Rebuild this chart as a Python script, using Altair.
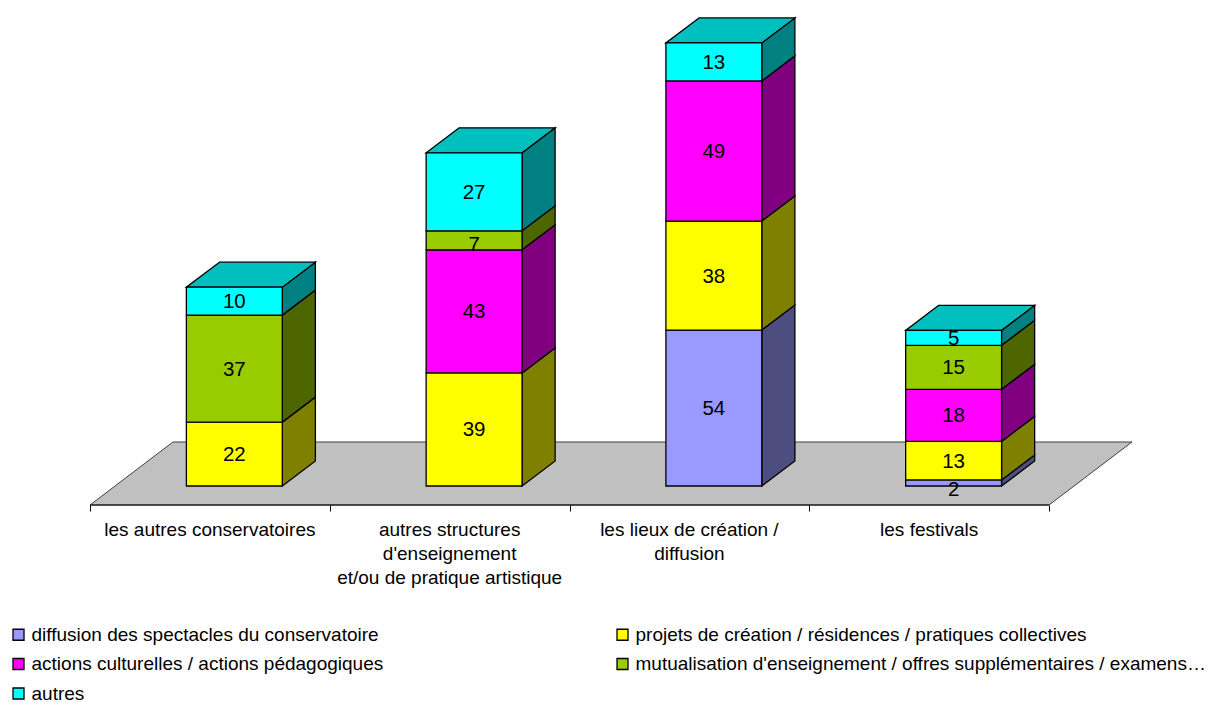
import altair as alt
import pandas as pd

categories = ["les autres conservatoires",
              "autres structures\nd'enseignement\net/ou de pratique artistique",
              "les lieux de création /\ndiffusion",
              "les festivals"]
series = ["diffusion des spectacles du conservatoire",
          "projets de création / résidences / pratiques collectives",
          "actions culturelles / actions pédagogiques",
          "mutualisation d'enseignement / offres supplémentaires / examens…",
          "autres"]
diffusion = [0, 0, 54.2, 2.1]
projets = [22.2, 39.3, 37.9, 13.4]
actions = [0, 42.8, 48.7, 18.1]
mutualisation = [37.2, 6.6, 0, 15.3]
autres = [9.7, 27.1, 13.2, 5.2]
front_colors = ["#9999FF", "#FFFF00", "#FF00FF", "#99CC00", "#00FFFF"]
side_colors = ["#4D4D80", "#808000", "#800080", "#4D6600", "#008080"]
top_color = "#00BFBF"
floor_color = "#C0C0C0"

# Oblique projection constants, in scale units (x: categories, y: values)
BAR_START, BAR_W = 0.402, 0.40
DX, DY = 0.138, 8.7
FLOOR_LOW, FLOOR_HIGH, FLOOR_DX = -6.6, 15.3, 0.346
X_DOMAIN = [0, 4.346]
Y_DOMAIN = [-6.6, 165.45]
W, H = 1042, 495
FONT = "Liberation Sans"
FS = 19.0
STROKE = 1.3

rows, sides, tops = [], [], []
columns = [diffusion, projets, actions, mutualisation, autres]
for i in range(len(categories)):
    base = 0.0
    x0 = i + BAR_START
    x1 = x0 + BAR_W
    for s, col in enumerate(columns):
        v = col[i]
        if v == 0:
            continue
        # the smallest segments carry their label a little below their centre
        drop = 2.0 if v < 3 else (1.4 if 6 < v < 7 else 0)
        rows.append(dict(series=series[s], x0=x0, x1=x1, y0=base, y1=base + v,
                         mid=base + v / 2 - drop, cx=(x0 + x1) / 2, value=v))
        key = f"{i}-{s}"
        sides.append(dict(key=key, x=x1, lo=base, hi=base + v, fill=side_colors[s]))
        sides.append(dict(key=key, x=x1 + DX, lo=base + DY, hi=base + v + DY, fill=side_colors[s]))
        base += v
    tops.append(dict(key=str(i), y=base, l=x0, r=x1))
    tops.append(dict(key=str(i), y=base + DY, l=x0 + DX, r=x1 + DX))

floor = pd.DataFrame([
    dict(y=FLOOR_LOW, l=0, r=4),
    dict(y=FLOOR_HIGH, l=FLOOR_DX, r=4 + FLOOR_DX),
])
cat_df = pd.DataFrame(dict(label=categories, x=[i + 0.5 for i in range(4)]))

xs = alt.Scale(domain=X_DOMAIN, nice=False, zero=False)
ys = alt.Scale(domain=Y_DOMAIN, nice=False, zero=False)
X = lambda f: alt.X(f, type="quantitative", scale=xs,
                    axis=alt.Axis(values=[0, 1, 2, 3, 4], labels=False, domain=False, grid=False,
                                  title=None, tickColor="black", tickSize=6, tickWidth=1))
Y = lambda f: alt.Y(f, type="quantitative", scale=ys, axis=None)

floor_layer = alt.Chart(floor).mark_area(orient="horizontal", color=floor_color, stroke="#404040", strokeWidth=1).encode(
    x=X("l"), x2="r", y=Y("y"))
front_edge = alt.Chart(floor.iloc[[0]]).mark_rule(color="black", strokeWidth=1).encode(
    x=X("l"), x2="r", y=Y("y"))
side_layer = alt.Chart(pd.DataFrame(sides)).mark_area(stroke="black", strokeWidth=STROKE).encode(
    x=X("x"), y=Y("lo"), y2="hi", detail="key:N", fill=alt.Fill("fill:N", scale=None))
top_layer = alt.Chart(pd.DataFrame(tops)).mark_area(orient="horizontal", color=top_color, stroke="black", strokeWidth=STROKE).encode(
    x=X("l"), x2="r", y=Y("y"), detail="key:N")
front_layer = alt.Chart(pd.DataFrame(rows)).mark_rect(stroke="black", strokeWidth=STROKE).encode(
    x=X("x0"), x2="x1", y=Y("y0"), y2="y1",
    color=alt.Color("series:N", scale=alt.Scale(domain=series, range=front_colors),
                    legend=alt.Legend(orient="none", legendX=-81, legendY=615, columns=2, direction="horizontal",
                                      title=None, columnPadding=229, rowPadding=9.5, symbolType="square", symbolSize=121,
                                      symbolStrokeColor="black", symbolStrokeWidth=STROKE, symbolOpacity=1,
                                      labelFont=FONT, labelFontSize=FS, labelColor="black",
                                      labelLimit=700, labelOffset=3.5, padding=0)))
value_text = alt.Chart(pd.DataFrame(rows)).mark_text(font=FONT, fontSize=20.5, color="black", dy=1).encode(
    x=X("cx"), y=Y("mid"), text=alt.Text("value:Q", format=".0f"))
cat_text = alt.Chart(cat_df).mark_text(font=FONT, fontSize=FS, color="black", baseline="top",
                                       lineBreak="\n", lineHeight=24).encode(
    x=X("x"), y=alt.value(H + 16), text="label:N")

chart = alt.layer(floor_layer, front_edge, side_layer, top_layer, front_layer, value_text, cat_text).properties(
    width=W, height=H, padding={"left": 1, "top": 2, "right": 0, "bottom": 0}
).configure_view(stroke=None).resolve_scale(color="independent", fill="independent")

chart.save("out.html", embed_options={"renderer": "svg", "actions": False})
